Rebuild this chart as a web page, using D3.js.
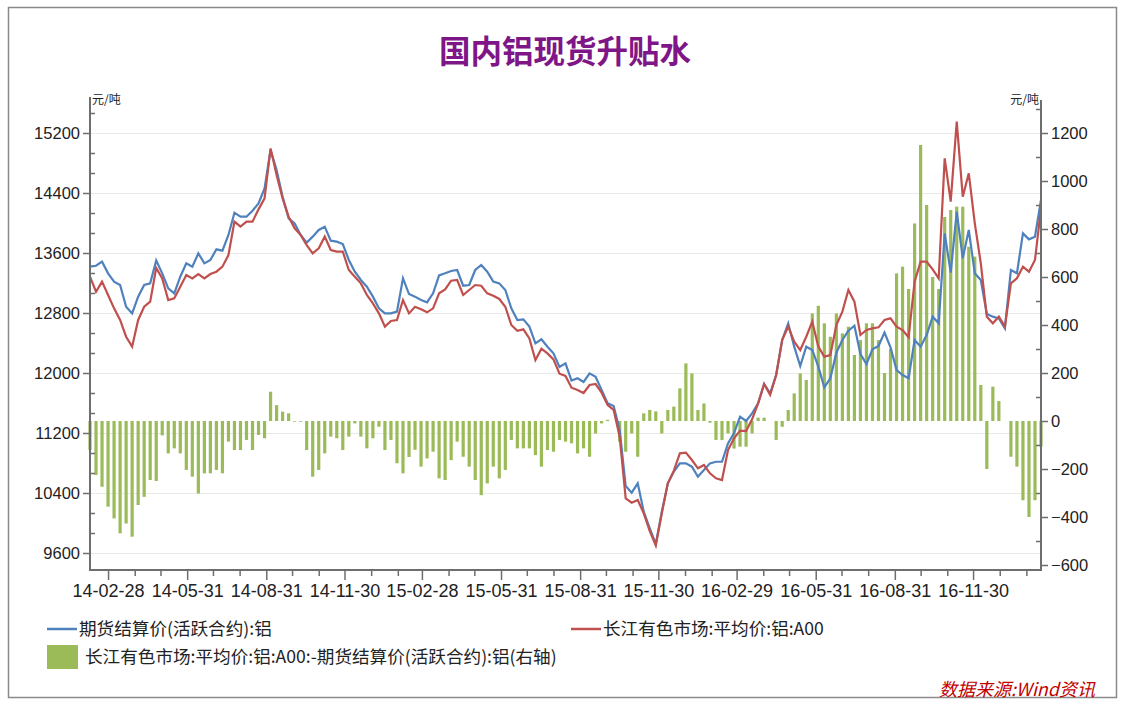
<!DOCTYPE html>
<html>
<head>
<meta charset="utf-8">
<script src="https://cdn.jsdelivr.net/npm/d3@7"></script>
<style>
  body { margin: 0; background: #fff; }
  svg { display: block; font-family: "Noto Sans", "Noto Sans CJK SC", sans-serif; }
</style>
</head>
<body>
<svg width="1121" height="702"></svg>
<script>
// weekly samples, first one on this date
var firstWeek = "2014-02-07";

// 期货结算价(活跃合约):铝
var futuresPrice = [
  13418, 13430, 13484, 13329, 13218, 13173, 12884, 12795, 13018, 13173,
  13195, 13500, 13329, 13129, 13062, 13284, 13462, 13418, 13595, 13462,
  13507, 13649, 13631, 13840, 14138, 14084, 14084, 14164, 14262, 14462,
  14973, 14706, 14351, 14062, 13995, 13840, 13738, 13818, 13907, 13951,
  13764, 13751, 13720, 13507, 13351, 13240, 13151, 13018, 12862, 12795,
  12795, 12818, 13262, 13053, 13018, 12973, 12942, 13062, 13302, 13329,
  13360, 13373, 13164, 13173, 13373, 13440, 13351, 13218, 13195, 13107,
  12862, 12707, 12715, 12618, 12395, 12449, 12351, 12262, 12080, 12129,
  11898, 11929, 11880, 11995, 11951, 11773, 11595, 11560, 11240, 10493,
  10404, 10529, 10151, 9929, 9720, 10151, 10529, 10684, 10795, 10795,
  10751, 10617, 10706, 10795, 10817, 10817, 11062, 11200, 11418, 11360,
  11462, 11595, 11853, 11729, 11973, 12440, 12662, 12351, 12093, 12351,
  12307, 12084, 11809, 11929, 12271, 12440, 12564, 12631, 12253, 12120,
  12315, 12360, 12540, 12342, 12040, 11973, 11929, 12440, 12351, 12507,
  12751, 12662, 13862, 13338, 14151, 13529, 13907, 13329, 13240, 12787,
  12751, 12729, 12596, 13373, 13329, 13862, 13782, 13818, 14307
];

// 长江有色市场:平均价:铝:A00
var spotPrice = [
  13284, 13084, 13218, 13040, 12862, 12707, 12484, 12351, 12707, 12884,
  12951, 13400, 13262, 12973, 12995, 13151, 13306, 13262, 13320, 13262,
  13320, 13351, 13418, 13573, 14018, 13951, 14018, 14018, 14182, 14329,
  14995, 14640, 14329, 14084, 13929, 13840, 13706, 13595, 13662, 13818,
  13640, 13618, 13618, 13373, 13284, 13195, 13040, 12929, 12795, 12618,
  12693, 12707, 12973, 12795, 12884, 12849, 12809, 12862, 13062, 13115,
  13231, 13240, 13040, 13107, 13173, 13164, 13062, 13031, 12987, 12884,
  12640, 12564, 12582, 12462, 12173, 12324, 12262, 12182, 11990, 11960,
  11804, 11773, 11733, 11840, 11853, 11737, 11573, 11507, 11151, 10329,
  10271, 10307, 10129, 9893, 9700, 10129, 10529, 10698, 10929, 10938,
  10840, 10729, 10773, 10662, 10595, 10573, 10973, 11130, 11231, 11226,
  11382, 11595, 11853, 11707, 11973, 12440, 12618, 12418, 12306, 12484,
  12684, 12351, 12218, 12240, 12640, 12818, 13107, 12951, 12507, 12573,
  12595, 12609, 12707, 12729, 12618, 12573, 12476, 13218, 13484, 13484,
  13382, 13262, 14862, 14284, 15351, 14351, 14662, 13996, 13462, 12751,
  12662, 12751, 12618, 13196, 13262, 13418, 13351, 13507, 14196
];

// 长江有色市场:平均价:铝:A00:-期货结算价(活跃合约):铝 (右轴)
var spread = [
  -121, -225, -274, -357, -406, -468, -427, -482, -350, -316,
  -246, -250, -60, -135, -114, -135, -204, -232, -302, -218,
  -218, -204, -218, -86, -121, -121, -79, -121, -58, -72,
  122, 66, 39, 32, -3, -3, -121, -232, -204, -135,
  -65, -72, -121, -65, -10, -65, -114, -72, -24, -121,
  -79, -176, -218, -150, -120, -190, -156, -128, -239, -246,
  -163, -86, -149, -190, -246, -309, -260, -190, -239, -204,
  -79, -114, -114, -114, -142, -190, -121, -128, -79, -86,
  -93, -135, -114, -149, -52, -10, 5, 0, -86, -128,
  -52, -149, 32, 46, 40, -52, 46, 60, 136, 240,
  198, 46, 73, -7, -79, -79, -52, -115, -107, -107,
  -52, 14, 14, 0, -79, -24, 46, 115, 198, 171,
  448, 480, 407, 351, 448, 365, 393, 275, 337, 407,
  407, 337, 200, 300, 615, 643, 550, 823, 1150, 900,
  600, 550, 850, 879, 893, 893, 726, 685, 150, -200,
  143, 83, 0, -149, -190, -330, -400, -330, -107
];

var xTickLabels = ["14-02-28", "14-05-31", "14-08-31", "14-11-30", "15-02-28", "15-05-31",
  "15-08-31", "15-11-30", "16-02-29", "16-05-31", "16-08-31", "16-11-30"];
var leftTicks = [9600, 10400, 11200, 12000, 12800, 13600, 14400, 15200];
var rightTicks = [-600, -400, -200, 0, 200, 400, 600, 800, 1000, 1200];

var svg = d3.select("svg");
var plotLeft = 90, plotRight = 1041, plotTop = 97, plotBottom = 570;

var start = d3.timeParse("%Y-%m-%d")(firstWeek);
var dates = futuresPrice.map(function(d, i) { return d3.timeDay.offset(start, i * 7); });
var parseTick = d3.timeParse("%y-%m-%d");
var majorDates = xTickLabels.map(parseTick);

var x = d3.scaleTime()
  .domain([dates[0], dates[dates.length - 1]])
  .range([plotLeft, plotRight]);

var yLeft = d3.scaleLinear()
  .domain([9600 - 17 / 0.075, 15200 + 36 / 0.075])
  .range([plotBottom, plotTop]);

var yRight = d3.scaleLinear()
  .domain([-600 - 5 / 0.24, 1200 + 36 / 0.24])
  .range([plotBottom, plotTop]);

// frame
svg.append("rect")
  .attr("x", 8.5).attr("y", 7.5).attr("width", 1108).attr("height", 690)
  .attr("fill", "none").attr("stroke", "#8a8a8a").attr("stroke-width", 1.5);

svg.append("text")
  .attr("x", 565).attr("y", 63)
  .attr("text-anchor", "middle")
  .attr("font-family", "Noto Sans CJK SC")
  .attr("font-size", 31.5).attr("font-weight", "bold")
  .attr("fill", "#7f1687")
  .text("国内铝现货升贴水");

// grid
svg.append("g").selectAll("line").data(leftTicks).enter()
  .append("line")
  .attr("x1", plotLeft).attr("x2", plotRight)
  .attr("y1", function(d) { return Math.round(yLeft(d)) + 0.5; })
  .attr("y2", function(d) { return Math.round(yLeft(d)) + 0.5; })
  .attr("stroke", "#e9e9e9");

// spread bars
svg.append("g").selectAll("rect").data(spread).enter()
  .append("rect")
  .attr("x", function(d, i) { return x(dates[i]) - 1.6; })
  .attr("width", 3.2)
  .attr("y", function(d) { return Math.min(yRight(d), yRight(0)); })
  .attr("height", function(d) { return Math.abs(yRight(d) - yRight(0)); })
  .attr("fill", "#9bbb59");

var line = d3.line()
  .x(function(d, i) { return x(dates[i]); })
  .y(function(d) { return yLeft(d); });

svg.append("path").datum(futuresPrice)
  .attr("d", line).attr("fill", "none")
  .attr("stroke", "#4f81bd").attr("stroke-width", 2.2);

svg.append("path").datum(spotPrice)
  .attr("d", line).attr("fill", "none")
  .attr("stroke", "#c0504d").attr("stroke-width", 2.2);

// axes
function styleAxis(g, size) {
  g.select(".domain").remove();
  g.selectAll("line").attr("stroke", "#6e6e6e").attr("stroke-width", 1.5);
  g.selectAll("text").attr("fill", "#222").attr("font-size", size);
}

var leftMinor = d3.range(9600 - 800 / 3, 15700, 800 / 3).filter(function(v, i) { return i % 3 != 1; })
  .filter(function(v) { return v > yLeft.domain()[0] && v < yLeft.domain()[1]; });

svg.append("g").attr("transform", "translate(" + plotLeft + ",0)")
  .call(d3.axisLeft(yLeft).tickValues(leftTicks).tickSize(7).tickPadding(3).tickFormat(d3.format("d")))
  .call(styleAxis, 16.5);
svg.append("g").attr("transform", "translate(" + plotLeft + ",0)")
  .call(d3.axisRight(yLeft).tickValues(leftMinor).tickSize(5).tickFormat(""))
  .call(styleAxis, 0);

var rightMinor = d3.range(-500, 1350, 200);
svg.append("g").attr("transform", "translate(" + plotRight + ",0)")
  .call(d3.axisRight(yRight).tickValues(rightTicks).tickSize(7).tickPadding(3).tickFormat(d3.format("d")))
  .call(styleAxis, 16.5);
svg.append("g").attr("transform", "translate(" + plotRight + ",0)")
  .call(d3.axisLeft(yRight).tickValues(rightMinor).tickSize(5).tickFormat(""))
  .call(styleAxis, 0);

var monthEnds = d3.timeMonth.range(new Date(2014, 2, 1), new Date(2017, 1, 2))
  .map(function(d) { return d3.timeDay.offset(d, -1); })
  .filter(function(d) { return d.getMonth() % 3 != 1; });

svg.append("g").attr("transform", "translate(0," + plotBottom + ")")
  .call(d3.axisBottom(x).tickValues(majorDates).tickSize(10).tickPadding(4)
    .tickFormat(d3.timeFormat("%y-%m-%d")))
  .call(styleAxis, 18);
svg.append("g").attr("transform", "translate(0," + plotBottom + ")")
  .call(d3.axisBottom(x).tickValues(monthEnds).tickSize(6).tickFormat(""))
  .call(styleAxis, 0);

// axis lines
svg.append("path")
  .attr("d", "M" + plotLeft + "," + plotTop + "V" + plotBottom + "H" + plotRight + "V" + (plotTop + 3))
  .attr("fill", "none").attr("stroke", "#6e6e6e").attr("stroke-width", 2);

svg.append("text").attr("x", 92).attr("y", 104)
  .attr("font-family", "Noto Sans CJK SC").attr("font-size", 12).attr("fill", "#222")
  .text("元/吨");
svg.append("text").attr("x", 1039).attr("y", 104).attr("text-anchor", "end")
  .attr("font-family", "Noto Sans CJK SC").attr("font-size", 12).attr("fill", "#222")
  .text("元/吨");

// legend
var legend = svg.append("g").attr("font-family", "Noto Sans CJK SC").attr("font-size", 17.6).attr("fill", "#222");
legend.append("line").attr("x1", 47).attr("x2", 77).attr("y1", 629).attr("y2", 629)
  .attr("stroke", "#4f81bd").attr("stroke-width", 2.5);
legend.append("text").attr("x", 79).attr("y", 635).text("期货结算价(活跃合约):铝");
legend.append("line").attr("x1", 571).attr("x2", 601).attr("y1", 629).attr("y2", 629)
  .attr("stroke", "#c0504d").attr("stroke-width", 2.5);
legend.append("text").attr("x", 603).attr("y", 635).text("长江有色市场:平均价:铝:A00");
legend.append("rect").attr("x", 47).attr("y", 645).attr("width", 31).attr("height", 24)
  .attr("fill", "#9bbb59");
legend.append("text").attr("x", 85).attr("y", 663)
  .text("长江有色市场:平均价:铝:A00:-期货结算价(活跃合约):铝(右轴)");

svg.append("text").attr("x", 1095).attr("y", 696).attr("text-anchor", "end")
  .attr("font-family", "Noto Sans CJK SC").attr("font-size", 18).attr("font-style", "italic")
  .attr("fill", "#c00000")
  .text("数据来源:Wind资讯");
</script>
</body>
</html>
